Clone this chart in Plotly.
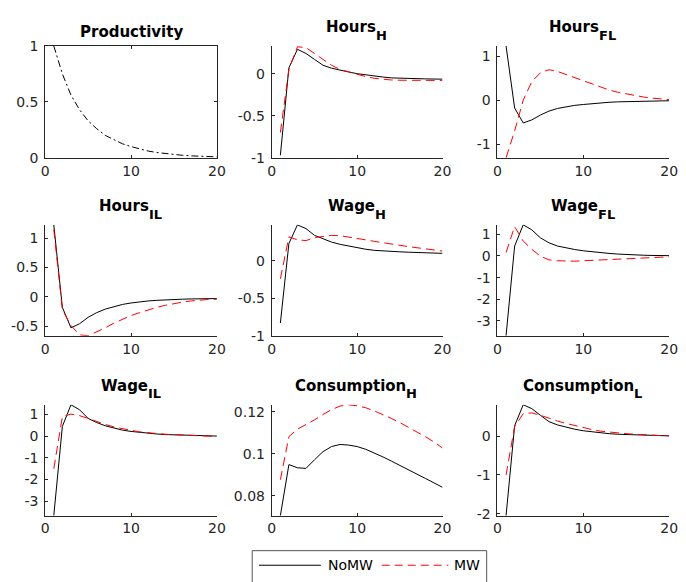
import plotly.graph_objects as go

t = list(range(1, 21))

productivity = [1.0, 0.75, 0.56, 0.43, 0.33, 0.26, 0.20, 0.16, 0.125, 0.10,
                0.078, 0.06, 0.047, 0.037, 0.029, 0.022, 0.017, 0.013, 0.01, 0.008]

hours_h_nomw = [-0.97, 0.07, 0.29, 0.24, 0.17, 0.10, 0.065, 0.04, 0.02, 0.0,
                -0.015, -0.03, -0.04, -0.05, -0.055, -0.058, -0.06, -0.062, -0.064, -0.065]
hours_h_mw = [-0.70, 0.05, 0.32, 0.31, 0.24, 0.17, 0.10, 0.05, 0.02, -0.01,
              -0.035, -0.055, -0.068, -0.075, -0.078, -0.08, -0.08, -0.08, -0.08, -0.08]

hours_fl_nomw = [1.23, -0.18, -0.52, -0.45, -0.34, -0.25, -0.19, -0.15, -0.12, -0.10,
                 -0.08, -0.06, -0.05, -0.04, -0.035, -0.03, -0.025, -0.02, -0.018, -0.015]
hours_fl_mw = [-1.31, -0.70, 0.0, 0.42, 0.62, 0.69, 0.65, 0.58, 0.51, 0.43,
               0.36, 0.29, 0.23, 0.18, 0.14, 0.10, 0.07, 0.045, 0.025, 0.01]

hours_il_nomw = [1.23, -0.18, -0.53, -0.46, -0.35, -0.27, -0.21, -0.17, -0.13, -0.105,
                 -0.085, -0.07, -0.06, -0.05, -0.045, -0.04, -0.036, -0.033, -0.031, -0.03]
hours_il_mw = [1.15, -0.22, -0.49, -0.65, -0.665, -0.60, -0.53, -0.45, -0.38, -0.32,
               -0.27, -0.22, -0.18, -0.145, -0.115, -0.09, -0.07, -0.055, -0.045, -0.04]

wage_h_nomw = [-0.83, 0.23, 0.48, 0.43, 0.34, 0.29, 0.25, 0.22, 0.195, 0.17,
               0.155, 0.14, 0.13, 0.125, 0.12, 0.115, 0.112, 0.11, 0.105, 0.10]
wage_h_mw = [-0.24, 0.32, 0.28, 0.27, 0.31, 0.33, 0.34, 0.335, 0.32, 0.30,
             0.28, 0.26, 0.24, 0.22, 0.205, 0.19, 0.175, 0.16, 0.145, 0.13]

wage_fl_nomw = [-3.69, 0.46, 1.44, 1.21, 0.84, 0.61, 0.46, 0.37, 0.30, 0.24,
                0.19, 0.15, 0.12, 0.09, 0.065, 0.045, 0.035, 0.025, 0.02, 0.015]
wage_fl_mw = [0.16, 1.36, 0.69, 0.31, -0.01, -0.18, -0.22, -0.24, -0.24, -0.22,
              -0.20, -0.18, -0.155, -0.13, -0.11, -0.09, -0.075, -0.06, -0.05, -0.04]

wage_il_nomw = [-3.67, 0.45, 1.45, 1.22, 0.82, 0.63, 0.48, 0.37, 0.28, 0.22,
                0.17, 0.13, 0.10, 0.075, 0.06, 0.045, 0.03, 0.02, 0.01, 0.005]
wage_il_mw = [-1.5, 0.9, 1.02, 0.95, 0.82, 0.67, 0.54, 0.43, 0.34, 0.27,
              0.20, 0.15, 0.12, 0.09, 0.065, 0.045, 0.03, 0.015, 0.0, -0.01]

cons_h_nomw = [0.0706, 0.0949, 0.0934, 0.0931, 0.0972, 0.1011, 0.1035, 0.1045, 0.1042, 0.1035,
               0.1022, 0.1005, 0.0986, 0.0966, 0.0946, 0.0925, 0.0904, 0.0883, 0.0862, 0.0841]
cons_h_mw = [0.0877, 0.1082, 0.1118, 0.1138, 0.1162, 0.1188, 0.1211, 0.1228, 0.1234, 0.1229,
             0.1220, 0.1205, 0.1188, 0.1169, 0.1149, 0.1128, 0.1105, 0.1082, 0.1057, 0.1028]

cons_l_nomw = [-2.05, 0.27, 0.81, 0.71, 0.54, 0.375, 0.29, 0.23, 0.18, 0.14,
               0.11, 0.085, 0.065, 0.05, 0.04, 0.03, 0.023, 0.017, 0.012, 0.008]
cons_l_mw = [-1.0, 0.25, 0.58, 0.60, 0.54, 0.46, 0.39, 0.33, 0.27, 0.22,
             0.17, 0.13, 0.105, 0.08, 0.065, 0.05, 0.035, 0.025, 0.015, 0.01]

x_ticks = [0, 10, 20]

# (main title, subscript, nomw, mw, y range, y ticks, y tick labels)
panels = [
    ("Productivity", "", productivity, None, [0, 1], [0, 0.5, 1], ["0", "0.5", "1"]),
    ("Hours", "H", hours_h_nomw, hours_h_mw, [-1.0, 0.33], [-1, -0.5, 0], ["-1", "-0.5", "0"]),
    ("Hours", "FL", hours_fl_nomw, hours_fl_mw, [-1.31, 1.23], [-1, 0, 1], ["-1", "0", "1"]),
    ("Hours", "IL", hours_il_nomw, hours_il_mw, [-0.665, 1.23], [-0.5, 0, 0.5, 1], ["-0.5", "0", "0.5", "1"]),
    ("Wage", "H", wage_h_nomw, wage_h_mw, [-1.0, 0.48], [-1, -0.5, 0], ["-1", "-0.5", "0"]),
    ("Wage", "FL", wage_fl_nomw, wage_fl_mw, [-3.69, 1.44], [-3, -2, -1, 0, 1], ["-3", "-2", "-1", "0", "1"]),
    ("Wage", "IL", wage_il_nomw, wage_il_mw, [-3.67, 1.45], [-3, -2, -1, 0, 1], ["-3", "-2", "-1", "0", "1"]),
    ("Consumption", "H", cons_h_nomw, cons_h_mw, [0.0706, 0.1234], [0.08, 0.1, 0.12], ["0.08", "0.1", "0.12"]),
    ("Consumption", "L", cons_l_nomw, cons_l_mw, [-2.05, 0.81], [-2, -1, 0], ["-2", "-1", "0"]),
]

W, H = 686, 582
col_px = [(42, 217), (273, 447), (503, 678)]
row_px = [(39, 154), (223, 337), (408, 522)]

AX = "#262626"
FONT = "DejaVu Sans"

# approximate DejaVu Sans Bold advance widths (per 1000 em)
cw = {"H": 837, "o": 687, "u": 712, "r": 493, "s": 595, "W": 1103, "a": 675, "g": 716,
      "e": 678, "C": 734, "n": 712, "m": 1042, "p": 716, "t": 478, "i": 343, "F": 683,
      "L": 637, "I": 372, "P": 733, "d": 716, "c": 593, "v": 652, "y": 652}


def tw(s, size):
    return sum(cw.get(ch, 650) for ch in s) * size / 1000.0


TS, SS = 15, 13

fig = go.Figure()
layout = dict(
    width=W, height=H, margin=dict(l=0, r=0, t=0, b=0),
    paper_bgcolor="white", plot_bgcolor="white", showlegend=False,
    font=dict(family=FONT, size=14, color=AX),
)
annotations = []
shapes = []

for i, (main, sub, nomw, mw, yr, yt, ytl) in enumerate(panels):
    r, c = divmod(i, 3)
    n = "" if i == 0 else str(i + 1)
    xa, ya = "x" + n, "y" + n
    x0p, x1p = col_px[c]
    y0p, y1p = row_px[r]
    box = (i == 0)
    if main == "Productivity":
        fig.add_trace(go.Scatter(x=t, y=nomw, mode="lines", xaxis=xa, yaxis=ya,
                                 line=dict(color="black", width=1, dash="7px,3px,2px,3px")))
    else:
        fig.add_trace(go.Scatter(x=t, y=nomw, mode="lines", xaxis=xa, yaxis=ya, name="NoMW",
                                 line=dict(color="black", width=1)))
        fig.add_trace(go.Scatter(x=t, y=mw, mode="lines", xaxis=xa, yaxis=ya, name="MW",
                                 line=dict(color="red", width=1, dash="9px,5px")))
    common = dict(showline=True, linecolor=AX, linewidth=1, ticks="inside", ticklen=3,
                  tickcolor=AX, tickwidth=1, showgrid=False, zeroline=False,
                  mirror="ticks" if box else False,
                  tickfont=dict(family=FONT, size=14, color=AX))
    layout["xaxis" + n] = dict(common, domain=[x0p / W, x1p / W], range=[0, 20],
                               tickvals=x_ticks, ticktext=[str(v) for v in x_ticks],
                               anchor=ya)
    layout["yaxis" + n] = dict(common, domain=[1 - y1p / H, 1 - y0p / H], range=yr,
                               tickvals=yt, ticktext=ytl, anchor=xa, ticklabelstandoff=3)
    # titles
    cx = (x0p + x1p) / 2.0
    if sub:
        base = y0p - 14.5
        total = tw(main, TS) + tw(sub, SS)
        xj = cx - total / 2.0 + tw(main, TS)
        annotations.append(dict(text="<b>%s</b>" % main, x=xj / W, y=1 - (base - 5.3) / H,
                                xref="paper", yref="paper", xanchor="right", yanchor="middle",
                                borderpad=0, borderwidth=0,
                                showarrow=False, font=dict(family=FONT, size=TS, color="black")))
        annotations.append(dict(text="<b>%s</b>" % sub, x=xj / W, y=1 - (base + 8 - 4.6) / H,
                                xref="paper", yref="paper", xanchor="left", yanchor="middle",
                                borderpad=0, borderwidth=0,
                                showarrow=False, font=dict(family=FONT, size=SS, color="black")))
    else:
        base = y0p - 9
        annotations.append(dict(text="<b>%s</b>" % main, x=cx / W, y=1 - (base - 5.3) / H,
                                xref="paper", yref="paper", xanchor="center", yanchor="middle",
                                borderpad=0, borderwidth=0,
                                showarrow=False, font=dict(family=FONT, size=TS, color="black")))

# manual legend
ly = 573
shapes.append(dict(type="rect", xref="paper", yref="paper", x0=253 / W, x1=492 / W,
                   y0=-0.02, y1=1 - 558 / H, line=dict(color="#555555", width=1),
                   fillcolor="white", layer="above"))
shapes.append(dict(type="line", xref="paper", yref="paper", x0=260 / W, x1=323 / W,
                   y0=1 - ly / H, y1=1 - ly / H, line=dict(color="black", width=1)))
shapes.append(dict(type="line", xref="paper", yref="paper", x0=385 / W, x1=453 / W,
                   y0=1 - ly / H, y1=1 - ly / H, line=dict(color="red", width=1, dash="8px,5px")))
annotations.append(dict(text="NoMW", x=328 / W, y=1 - ly / H, xref="paper", yref="paper",
                        xanchor="left", yanchor="middle", showarrow=False,
                        font=dict(family=FONT, size=14, color="black")))
annotations.append(dict(text="MW", x=457 / W, y=1 - ly / H, xref="paper", yref="paper",
                        xanchor="left", yanchor="middle", showarrow=False,
                        font=dict(family=FONT, size=14, color="black")))

layout["annotations"] = annotations
layout["shapes"] = shapes
fig.update_layout(**layout)
fig.write_html("out.html")
